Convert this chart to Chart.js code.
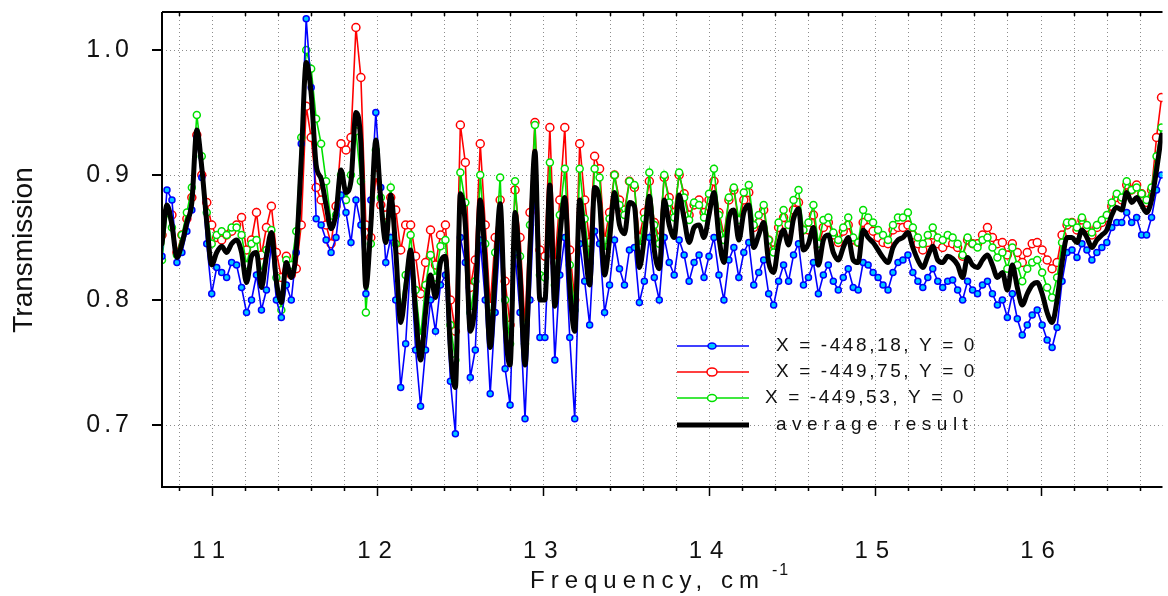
<!DOCTYPE html>
<html><head><meta charset="utf-8">
<script src="https://cdn.jsdelivr.net/npm/chart.js@4.4.0/dist/chart.umd.min.js"></script>
<style>html,body{margin:0;padding:0;background:#fff;}#wrap{width:1168px;height:596px;}</style>
</head><body><div id="wrap"><canvas id="c" width="1168" height="596"></canvas></div>
<script>
// Frequency, cm^-1
const frequency = [
10.70,10.73,10.76,10.79,10.82,10.85,10.88,10.91,10.94,10.97,
11.00,11.03,11.06,11.09,11.12,11.15,11.18,11.21,11.24,11.27,
11.30,11.33,11.36,11.39,11.42,11.45,11.48,11.51,11.54,11.57,
11.60,11.63,11.66,11.69,11.72,11.75,11.78,11.81,11.84,11.87,
11.90,11.93,11.96,11.99,12.02,12.05,12.08,12.11,12.14,12.17,
12.20,12.23,12.26,12.29,12.32,12.35,12.38,12.41,12.44,12.47,
12.50,12.53,12.56,12.59,12.62,12.65,12.68,12.71,12.74,12.77,
12.80,12.83,12.86,12.89,12.92,12.95,12.98,13.01,13.04,13.07,
13.10,13.13,13.16,13.19,13.22,13.25,13.28,13.31,13.34,13.37,
13.40,13.43,13.46,13.49,13.52,13.55,13.58,13.61,13.64,13.67,
13.70,13.73,13.76,13.79,13.82,13.85,13.88,13.91,13.94,13.97,
14.00,14.03,14.06,14.09,14.12,14.15,14.18,14.21,14.24,14.27,
14.30,14.33,14.36,14.39,14.42,14.45,14.48,14.51,14.54,14.57,
14.60,14.63,14.66,14.69,14.72,14.75,14.78,14.81,14.84,14.87,
14.90,14.93,14.96,14.99,15.02,15.05,15.08,15.11,15.14,15.17,
15.20,15.23,15.26,15.29,15.32,15.35,15.38,15.41,15.44,15.47,
15.50,15.53,15.56,15.59,15.62,15.65,15.68,15.71,15.74,15.77,
15.80,15.83,15.86,15.89,15.92,15.95,15.98,16.01,16.04,16.07,
16.10,16.13,16.16,16.19,16.22,16.25,16.28,16.31,16.34,16.37,
16.40,16.43,16.46,16.49,16.52,16.55,16.58,16.61,16.64,16.67,
16.70,16.73];

// X = -448,18, Y = 0 (blue)
const transX44818 = [
.835,.888,.880,.830,.838,.855,.872,.930,.898,.845,
.805,.826,.822,.818,.830,.828,.810,.790,.800,.820,
.792,.808,.845,.800,.786,.812,.800,.838,.925,1.025,
.970,.865,.860,.848,.838,.850,.884,.870,.846,.880,
.860,.805,.880,.950,.890,.830,.850,.800,.730,.765,
.832,.760,.715,.760,.800,.775,.812,.820,.735,.693,
.850,.830,.738,.760,.848,.800,.725,.790,.852,.745,
.716,.838,.790,.705,.800,.890,.770,.770,.860,.752,
.820,.850,.770,.705,.845,.815,.780,.855,.845,.790,
.812,.848,.825,.812,.840,.842,.798,.815,.850,.818,
.800,.850,.830,.820,.848,.836,.815,.830,.836,.818,
.835,.850,.820,.800,.832,.842,.818,.838,.846,.812,
.822,.832,.805,.796,.815,.828,.815,.836,.845,.812,
.818,.830,.805,.820,.828,.815,.808,.818,.825,.810,
.808,.830,.828,.822,.818,.812,.808,.822,.830,.832,
.836,.822,.815,.810,.818,.825,.815,.810,.815,.816,
.808,.800,.815,.808,.805,.812,.815,.805,.796,.800,
.786,.805,.785,.772,.780,.788,.792,.780,.768,.762,
.778,.815,.838,.840,.834,.845,.840,.832,.838,.842,
.846,.858,.862,.862,.870,.862,.866,.852,.852,.866,
.888,.900];

// X = -449,75, Y = 0 (red)
const transX44975 = [
.852,.870,.868,.838,.852,.865,.882,.932,.900,.878,
.860,.850,.848,.852,.855,.860,.866,.840,.848,.870,
.836,.858,.875,.838,.818,.835,.820,.825,.860,.955,
.930,.890,.880,.860,.845,.875,.925,.920,.930,1.018,
.978,.860,.850,.900,.876,.868,.882,.872,.840,.860,
.860,.835,.805,.830,.856,.828,.852,.860,.800,.775,
.940,.910,.810,.832,.925,.860,.795,.850,.880,.815,
.780,.888,.850,.780,.870,.942,.840,.835,.938,.830,
.880,.938,.840,.800,.925,.880,.846,.915,.905,.848,
.870,.900,.880,.872,.895,.890,.850,.870,.895,.862,
.850,.898,.882,.870,.900,.885,.868,.876,.880,.870,
.880,.895,.870,.852,.880,.888,.862,.880,.886,.858,
.862,.872,.848,.840,.858,.866,.855,.872,.878,.856,
.856,.868,.842,.858,.862,.852,.846,.855,.860,.848,
.846,.862,.858,.855,.850,.846,.845,.856,.858,.858,
.860,.852,.845,.840,.846,.852,.845,.842,.846,.845,
.842,.835,.848,.845,.845,.852,.858,.850,.845,.846,
.836,.845,.838,.830,.838,.845,.846,.840,.832,.825,
.830,.852,.860,.862,.856,.864,.858,.852,.858,.862,
.866,.875,.882,.880,.892,.888,.892,.885,.878,.888,
.930,.962];

// X = -449,53, Y = 0 (green)
const transX44953 = [
.832,.870,.858,.836,.852,.870,.890,.948,.915,.870,
.845,.852,.855,.852,.858,.858,.852,.828,.845,.848,
.822,.840,.856,.818,.792,.832,.828,.855,.930,1.000,
.985,.945,.925,.895,.862,.868,.900,.880,.900,.935,
.895,.790,.845,.920,.882,.858,.890,.845,.790,.820,
.852,.808,.770,.812,.836,.818,.843,.848,.780,.752,
.902,.878,.790,.815,.900,.845,.778,.838,.898,.800,
.765,.895,.835,.765,.860,.940,.820,.818,.910,.812,
.868,.905,.828,.792,.905,.865,.830,.905,.898,.838,
.865,.900,.876,.868,.895,.892,.842,.865,.902,.860,
.845,.900,.878,.866,.902,.882,.864,.878,.876,.866,
.885,.905,.868,.848,.882,.890,.864,.886,.892,.860,
.868,.876,.848,.838,.862,.872,.860,.880,.888,.856,
.862,.876,.845,.864,.866,.854,.848,.858,.866,.850,
.846,.872,.866,.862,.856,.852,.848,.860,.866,.866,
.870,.858,.850,.845,.852,.858,.850,.848,.852,.850,
.845,.836,.850,.845,.842,.848,.850,.842,.834,.838,
.825,.842,.828,.815,.825,.830,.832,.822,.810,.802,
.818,.846,.862,.862,.858,.866,.860,.854,.860,.864,
.868,.878,.885,.882,.895,.888,.890,.885,.880,.890,
.915,.938];

// average result (black)
const averageResult = [
.845,.876,.860,.834,.845,.862,.878,.936,.906,.862,
.828,.838,.843,.838,.845,.848,.838,.814,.835,.838,
.810,.835,.854,.815,.798,.830,.818,.840,.912,.990,
.965,.908,.897,.876,.857,.870,.904,.886,.895,.950,
.925,.810,.860,.928,.880,.846,.884,.840,.782,.810,
.840,.790,.752,.790,.820,.802,.830,.835,.760,.730,
.885,.860,.775,.800,.880,.830,.762,.820,.877,.780,
.748,.870,.820,.748,.840,.919,.800,.800,.892,.795,
.850,.882,.810,.775,.880,.845,.812,.890,.878,.820,
.848,.886,.860,.853,.878,.875,.826,.850,.883,.840,
.825,.880,.860,.850,.884,.865,.846,.858,.860,.850,
.868,.886,.850,.830,.865,.872,.848,.870,.876,.842,
.852,.862,.830,.822,.845,.856,.844,.865,.873,.840,
.845,.858,.828,.848,.852,.838,.832,.842,.850,.832,
.830,.856,.850,.846,.840,.834,.830,.842,.848,.850,
.854,.842,.832,.826,.835,.843,.832,.830,.835,.833,
.828,.818,.834,.828,.826,.832,.836,.828,.818,.822,
.808,.828,.810,.796,.805,.812,.814,.805,.790,.782,
.800,.830,.850,.850,.846,.856,.850,.842,.848,.852,
.856,.868,.874,.872,.886,.878,.882,.876,.870,.880,
.904,.932];

const seriesLabels = ['X = -448,18, Y = 0', 'X = -449,75, Y = 0', 'X = -449,53, Y = 0', 'average result'];
const xTickValues = [11, 12, 13, 14, 15, 16];
const xTickLabels = ['11', '12', '13', '14', '15', '16'];
const yTickValues = [0.7, 0.8, 0.9, 1.0];
const yTickLabels = ['0.7', '0.8', '0.9', '1.0'];
const xTitle = 'Frequency, cm';
const xTitleSup = '-1';
const yTitle = 'Transmission';

const pts = arr => arr.map((v, i) => ({x: frequency[i], y: v}));

const FONT = '"Liberation Sans", Arial, sans-serif';

function drawText(ctx, s, x, y, size, spacing, align) {
  ctx.font = size + 'px ' + FONT;
  ctx.letterSpacing = spacing + 'px';
  ctx.textAlign = align;
  ctx.textBaseline = 'middle';
  let dx = 0;
  if (align === 'center') dx = spacing / 2;
  if (align === 'right') dx = spacing;
  ctx.fillText(s, x + dx, y);
}

const decor = {
  id: 'decor',
  beforeDraw(chart) {
    const ctx = chart.ctx;
    ctx.save();
    ctx.fillStyle = '#fff';
    ctx.fillRect(0, 0, chart.width, chart.height);
    ctx.restore();
  },
  beforeDatasetsDraw(chart) {
    const {ctx, chartArea: a, scales: {x, y}} = chart;
    ctx.save();
    ctx.strokeStyle = '#8c8c8c';
    ctx.lineWidth = 1;
    ctx.setLineDash([1, 3]);
    for (let k = 54; k <= 83; k++) {
      const px = Math.round(x.getPixelForValue(k / 5)) + 0.5;
      if (px <= a.left + 2 || px >= a.right) continue;
      ctx.beginPath(); ctx.moveTo(px, a.top); ctx.lineTo(px, a.bottom); ctx.stroke();
    }
    yTickValues.forEach(v => {
      const py = Math.round(y.getPixelForValue(v)) + 0.5;
      ctx.beginPath(); ctx.moveTo(a.left, py); ctx.lineTo(a.right, py); ctx.stroke();
    });
    ctx.restore();
  },
  afterDraw(chart) {
    const {ctx, chartArea: a, scales: {x, y}} = chart;
    ctx.save();
    ctx.setLineDash([]);
    ctx.strokeStyle = '#000';
    ctx.fillStyle = '#000';
    // axes frame
    ctx.lineWidth = 2;
    ctx.beginPath();
    ctx.moveTo(a.left, a.top); ctx.lineTo(a.left, a.bottom); ctx.lineTo(a.right, a.bottom);
    ctx.moveTo(a.left, a.top); ctx.lineTo(a.right, a.top);
    ctx.stroke();
    // x ticks (bottom and top)
    ctx.lineWidth = 1.5;
    for (let k = 54; k <= 83; k++) {
      const px = Math.round(x.getPixelForValue(k / 5)) + 0.5;
      const major = (k % 5 === 0);
      ctx.beginPath();
      ctx.moveTo(px, a.bottom); ctx.lineTo(px, a.bottom + (major ? 9 : 4));
      if (!major) { ctx.moveTo(px, a.top); ctx.lineTo(px, a.top + 4); }
      ctx.stroke();
    }
    // y ticks
    ctx.lineWidth = 2;
    yTickValues.forEach(v => {
      const py = Math.round(y.getPixelForValue(v));
      ctx.beginPath(); ctx.moveTo(a.left - 10, py); ctx.lineTo(a.left, py); ctx.stroke();
    });
    // tick labels
    ctx.fillStyle = '#111';
    xTickValues.forEach((v, i) => {
      drawText(ctx, xTickLabels[i], x.getPixelForValue(v) - 3, 551, 24, 8, 'center');
    });
    yTickValues.forEach((v, i) => {
      drawText(ctx, yTickLabels[i], 129, y.getPixelForValue(v), 25, 4, 'right');
    });
    // axis titles
    drawText(ctx, xTitle, 530, 581, 24, 6, 'left');
    drawText(ctx, xTitleSup, 772, 571, 16, 2, 'left');
    ctx.save();
    ctx.translate(24, 250);
    ctx.rotate(-Math.PI / 2);
    drawText(ctx, yTitle, 0, 0, 28, 0, 'center');
    ctx.restore();
    // legend
    const rows = [346, 372, 398, 425];
    const textX = [776, 776, 765, 776];
    const spacing = [2.6, 2.6, 2.6, 5.5];
    chart.data.datasets.forEach((ds, i) => {
      const yy = rows[i];
      ctx.setLineDash([]);
      ctx.strokeStyle = ds.borderColor;
      ctx.lineWidth = ds.borderWidth;
      ctx.beginPath(); ctx.moveTo(677, yy); ctx.lineTo(749, yy); ctx.stroke();
      if (ds.pointRadius > 0) {
        ctx.beginPath();
        ctx.ellipse(712, yy, ds.pointRadius + 1, ds.pointRadius, 0, 0, Math.PI * 2);
        ctx.fillStyle = ds.pointBackgroundColor;
        ctx.fill();
        ctx.lineWidth = ds.pointBorderWidth;
        ctx.strokeStyle = ds.pointBorderColor;
        ctx.stroke();
      }
      ctx.fillStyle = '#111';
      drawText(ctx, seriesLabels[i], textX[i], yy, 19, spacing[i], 'left');
    });
    ctx.restore();
  }
};

new Chart(document.getElementById('c'), {
  type: 'line',
  data: {
    datasets: [
      {label: seriesLabels[0], data: pts(transX44818), borderColor: '#0000ff', borderWidth: 1.6,
       pointRadius: 3, pointBackgroundColor: '#00c8ff', pointBorderColor: '#0000ff', pointBorderWidth: 1.5, order: 1},
      {label: seriesLabels[1], data: pts(transX44975), borderColor: '#ff0000', borderWidth: 1.6,
       pointRadius: 4, pointBackgroundColor: '#ffffff', pointBorderColor: '#ff0000', pointBorderWidth: 1.5, order: 3},
      {label: seriesLabels[2], data: pts(transX44953), borderColor: '#00e000', borderWidth: 1.6,
       pointRadius: 3.5, pointBackgroundColor: '#ffffff', pointBorderColor: '#00e000', pointBorderWidth: 1.5, order: 2},
      {label: seriesLabels[3], data: pts(averageResult), borderColor: '#000000', borderWidth: 5,
       borderJoinStyle: 'round', borderCapStyle: 'round', cubicInterpolationMode: 'monotone',
       pointRadius: 0, order: 0}
    ]
  },
  options: {
    responsive: false,
    animation: false,
    devicePixelRatio: 1,
    layout: {padding: {top: 12, right: 0, left: 0, bottom: 0}},
    elements: {line: {tension: 0}},
    plugins: {legend: {display: false}, tooltip: {enabled: false}},
    scales: {
      x: {type: 'linear', min: 10.70, max: 16.736,
          grid: {display: false}, border: {display: false}, ticks: {display: false},
          afterFit(s) { s.height = 109; }},
      y: {type: 'linear', min: 0.6504, max: 1.0304,
          grid: {display: false}, border: {display: false}, ticks: {display: false},
          afterFit(s) { s.width = 162; }}
    }
  },
  plugins: [decor]
});
</script>
</body></html>
